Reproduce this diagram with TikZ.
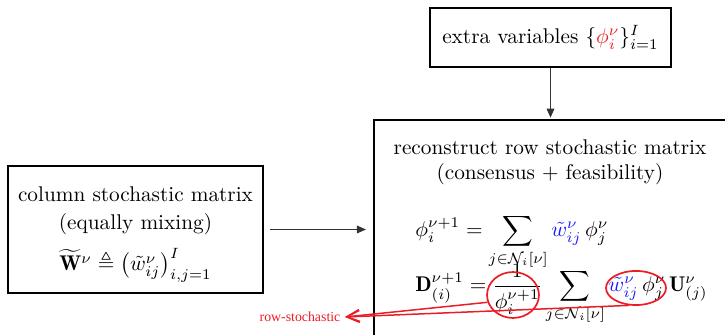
\documentclass[tikz,border=0pt]{standalone}
\usepackage{amsmath,amssymb}
\usepackage{fontspec}
\usetikzlibrary{arrows.meta,positioning,shapes.geometric}
\newfontfamily\notefont{Liberation Serif}
\definecolor{markred}{HTML}{EC1C24}
\definecolor{wblue}{HTML}{1A1AFF}

\begin{document}
\begin{tikzpicture}[x=0.47pt,y=-0.47pt,box/.style={draw,line width=1pt,align=center,inner sep=0pt},link/.style={draw=black!80,line width=.5pt,-{Triangle[length=4.2pt,width=3.6pt]}},ring/.style={draw=markred,line width=.8pt,ellipse,inner sep=0pt},note/.style={draw=markred,line width=.7pt,-{Straight Barb[length=6pt,width=5.6pt]}}]
\useasboundingbox (0,0) rectangle (725,335);\clip (0,0) rectangle (725,335);
\node[box,minimum width=113.3pt,minimum height=27.7pt] (extra) at (550.5,37.5){extra variables $\{{\color{markred}\phi_i^\nu}\}_{i=1}^I$};
\node[box,minimum width=119.9pt,minimum height=59.7pt] (colmat) at (135.5,229.5){};
\node[align=center,anchor=base] (coltext) at (135.5,271){column stochastic matrix\\[1.4pt](equally mixing)\\[5pt]$\widetilde{\mathbf W}^\nu\triangleq\big(\tilde w_{ij}^\nu\big)_{i,j=1}^I$};
\node[box,minimum width=165.9pt,minimum height=105.8pt] (recon) at (550.5,232.5){};
\node[align=center] (rectitle) at (550,162.5){reconstruct row stochastic matrix\\(consensus + feasibility)};
\node[anchor=base west,inner sep=0pt] (eqphi) at (415,237){$\displaystyle\phi_i^{\nu+1}=\sum_{j\in\mathcal N_i[\nu]}{\color{wblue}\tilde w_{ij}^\nu}\,\phi_j^\nu$};
\node[anchor=base west,inner sep=0pt] (eqD) at (415,292){$\displaystyle\mathbf D_{(i)}^{\nu+1}=\frac{1}{\phi_i^{\nu+1}}\sum_{j\in\mathcal N_i[\nu]}{\color{wblue}\tilde w_{ij}^\nu}\,\phi_j^\nu\,\mathbf U_{(j)}^\nu$};
\draw[link,shorten >=.6pt] (extra) -- (extra.south |- recon.north);\draw[link,shorten <=2.8pt,shorten >=3.3pt] (colmat.east) -- (colmat.east -| recon.west);
\node[ring,minimum width=24.4pt,minimum height=21.6pt] (fracring) at (513,295){};\node[ring,minimum width=28.2pt,minimum height=16pt] (wring) at (636,288){};
\node[text=markred,font=\notefont\fontsize{6.5pt}{8pt}\selectfont,inner sep=2pt] (rowlab) at (300,317){row-stochastic};
\draw[note] (fracring.196) -- (rowlab.east);\draw[note] (wring.248) -- (rowlab.east);
\end{tikzpicture}
\end{document}
